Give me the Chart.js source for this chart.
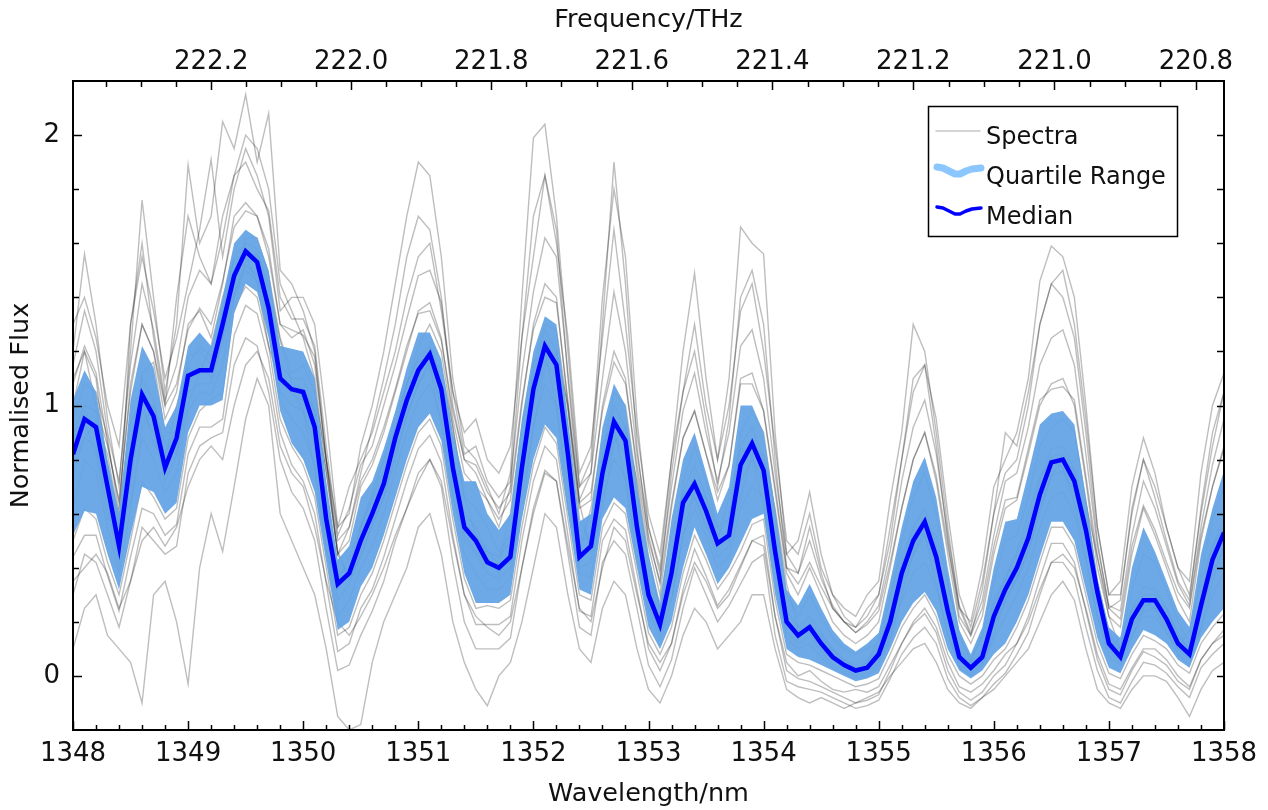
<!DOCTYPE html>
<html>
<head>
<meta charset="utf-8">
<script src="https://cdn.jsdelivr.net/npm/chart.js@4.4.0/dist/chart.umd.min.js"></script>
<style>
html,body{margin:0;padding:0;background:#fff;}
#wrap{width:1268px;height:810px;position:relative;}
</style>
</head>
<body>
<div id="wrap"><canvas id="c" width="1268" height="810"></canvas></div>
<script>
// ---- data (wavelength grid 1348.0 .. 1358.0 nm, step 0.1 nm) ----
const wavelengthStart = 1348.0;
const wavelengthStep = 0.1;
const wavelengths = Array.from({length: 101}, (_, i) => +(wavelengthStart + i * wavelengthStep).toFixed(1));

const median = [
0.82,0.95,0.92,0.70,0.48,0.80,1.04,0.96,0.77,0.88,
1.11,1.13,1.13,1.30,1.48,1.57,1.53,1.36,1.10,1.06,
1.05,0.92,0.58,0.34,0.38,0.50,0.60,0.71,0.88,1.02,
1.13,1.19,1.06,0.77,0.55,0.50,0.42,0.40,0.44,0.77,
1.06,1.22,1.15,0.82,0.44,0.48,0.75,0.94,0.87,0.55,
0.30,0.19,0.38,0.64,0.71,0.61,0.49,0.52,0.78,0.86,
0.76,0.46,0.20,0.15,0.18,0.12,0.07,0.04,0.02,0.03,
0.08,0.20,0.38,0.50,0.57,0.44,0.24,0.07,0.03,0.07,
0.22,0.32,0.40,0.51,0.67,0.79,0.80,0.72,0.54,0.31,
0.12,0.07,0.21,0.28,0.28,0.21,0.12,0.08,0.26,0.43,
0.53];

const upperQuartile = [
1.02,1.13,1.05,0.80,0.60,1.02,1.22,1.14,0.92,1.00,
1.22,1.27,1.22,1.40,1.60,1.65,1.62,1.50,1.22,1.21,
1.20,1.10,0.72,0.43,0.48,0.66,0.72,0.84,0.98,1.14,
1.27,1.27,1.17,0.90,0.72,0.72,0.60,0.54,0.60,0.95,
1.20,1.33,1.30,0.95,0.57,0.60,0.92,1.08,1.00,0.70,
0.45,0.27,0.58,0.80,0.90,0.75,0.60,0.70,1.00,1.00,
0.90,0.62,0.32,0.26,0.34,0.25,0.17,0.12,0.09,0.12,
0.16,0.35,0.55,0.72,0.81,0.66,0.40,0.17,0.08,0.18,
0.40,0.57,0.58,0.75,0.93,0.97,0.98,0.93,0.66,0.36,
0.18,0.14,0.40,0.55,0.46,0.35,0.24,0.18,0.45,0.62,
0.76];

const lowerQuartile = [
0.52,0.61,0.60,0.45,0.32,0.52,0.70,0.68,0.60,0.64,
0.90,1.00,1.00,1.02,1.34,1.45,1.42,1.25,0.98,0.86,
0.80,0.68,0.42,0.17,0.20,0.33,0.40,0.52,0.66,0.80,
0.92,0.97,0.87,0.60,0.38,0.27,0.27,0.27,0.30,0.58,
0.80,0.93,0.88,0.60,0.32,0.30,0.58,0.66,0.62,0.40,
0.18,0.10,0.20,0.40,0.55,0.45,0.34,0.40,0.49,0.58,
0.60,0.30,0.10,0.07,0.06,0.04,0.02,0.00,-0.02,-0.01,
0.01,0.10,0.20,0.27,0.31,0.24,0.10,0.02,-0.01,0.02,
0.08,0.12,0.20,0.30,0.44,0.57,0.57,0.50,0.32,0.14,
0.03,0.01,0.10,0.17,0.15,0.12,0.06,0.03,0.14,0.20,
0.25];

const spectrum01 = [
1.20,1.56,1.30,0.95,0.70,1.20,1.76,1.40,1.05,1.30,
1.89,1.60,1.70,2.05,1.95,2.15,1.90,2.08,1.50,1.45,
1.35,1.20,0.80,0.55,0.60,0.85,1.00,1.20,1.45,1.70,
1.90,1.85,1.55,1.10,0.85,0.80,0.70,0.60,0.75,1.40,
1.99,2.04,1.70,1.20,0.70,0.80,1.40,1.80,1.55,0.95,
0.55,0.40,0.80,1.20,1.49,1.10,0.80,1.10,1.66,1.60,
1.56,0.90,0.45,0.50,0.68,0.45,0.30,0.25,0.22,0.30,
0.35,0.65,0.90,1.30,1.20,0.90,0.55,0.25,0.20,0.40,
0.70,0.80,0.90,1.10,1.46,1.59,1.55,1.40,1.00,0.55,
0.30,0.35,0.70,0.88,0.75,0.55,0.40,0.35,0.75,1.00,
1.12];
const spectrum02 = [
1.30,1.40,1.25,1.00,0.85,1.30,1.55,1.35,1.10,1.25,
1.45,1.65,1.91,1.55,1.80,1.95,1.85,1.70,1.35,1.40,
1.40,1.30,0.95,0.55,0.70,0.80,0.90,1.05,1.20,1.40,
1.55,1.60,1.35,1.05,0.90,0.95,0.80,0.75,0.85,1.25,
1.55,1.85,1.60,1.25,0.75,0.85,1.25,1.65,1.30,0.90,
0.60,0.45,0.80,1.05,1.30,1.00,0.80,1.00,1.35,1.45,
1.20,0.85,0.50,0.45,0.60,0.40,0.30,0.22,0.18,0.22,
0.30,0.50,0.80,1.05,1.15,0.95,0.60,0.30,0.18,0.35,
0.60,0.90,0.85,1.05,1.30,1.45,1.50,1.30,0.95,0.55,
0.30,0.30,0.60,0.80,0.70,0.55,0.40,0.30,0.60,0.85,
1.05];
const spectrum03 = [
1.10,1.20,1.00,0.85,0.65,1.05,1.30,1.20,0.95,1.05,
1.30,1.35,1.25,1.45,1.70,1.75,1.70,1.55,1.30,1.25,
1.28,1.15,0.80,0.45,0.50,0.70,0.78,0.90,1.05,1.20,
1.35,1.38,1.25,0.95,0.75,0.70,0.65,0.58,0.65,1.00,
1.30,1.45,1.40,1.00,0.62,0.65,1.00,1.20,1.10,0.75,
0.48,0.30,0.62,0.88,0.98,0.82,0.65,0.78,1.10,1.12,
0.98,0.68,0.38,0.30,0.40,0.30,0.20,0.15,0.12,0.15,
0.20,0.40,0.62,0.80,0.90,0.72,0.45,0.20,0.12,0.22,
0.45,0.62,0.65,0.82,1.00,1.08,1.10,1.00,0.72,0.40,
0.22,0.18,0.45,0.62,0.52,0.40,0.28,0.20,0.50,0.70,
0.85];
const spectrum04 = [
0.90,1.00,0.98,0.78,0.55,0.85,1.10,1.02,0.82,0.92,
1.18,1.20,1.15,1.35,1.55,1.60,1.58,1.42,1.15,1.10,
1.10,0.98,0.62,0.38,0.40,0.55,0.65,0.76,0.92,1.08,
1.18,1.22,1.10,0.82,0.60,0.55,0.46,0.44,0.50,0.82,
1.12,1.28,1.20,0.88,0.50,0.52,0.80,1.00,0.92,0.60,
0.35,0.22,0.42,0.68,0.78,0.66,0.52,0.58,0.85,0.92,
0.80,0.50,0.24,0.18,0.22,0.16,0.10,0.06,0.04,0.06,
0.11,0.24,0.42,0.55,0.62,0.48,0.28,0.10,0.05,0.10,
0.26,0.36,0.45,0.56,0.72,0.84,0.85,0.76,0.58,0.34,
0.15,0.10,0.25,0.33,0.32,0.25,0.15,0.10,0.30,0.48,
0.58];
const spectrum05 = [
0.75,0.88,0.85,0.62,0.42,0.72,0.98,0.90,0.72,0.82,
1.05,1.08,1.08,1.25,1.42,1.52,1.48,1.30,1.05,1.00,
0.98,0.85,0.52,0.28,0.34,0.45,0.56,0.66,0.82,0.96,
1.08,1.14,1.00,0.72,0.50,0.45,0.38,0.36,0.40,0.72,
1.00,1.16,1.10,0.76,0.40,0.42,0.70,0.88,0.82,0.50,
0.26,0.16,0.34,0.60,0.66,0.56,0.44,0.48,0.72,0.80,
0.72,0.42,0.16,0.12,0.15,0.09,0.04,0.02,0.00,0.01,
0.05,0.16,0.34,0.45,0.52,0.40,0.20,0.04,0.01,0.05,
0.18,0.28,0.36,0.46,0.62,0.74,0.76,0.68,0.50,0.28,
0.10,0.05,0.18,0.24,0.25,0.18,0.10,0.06,0.22,0.38,
0.48];
const spectrum06 = [
0.50,0.62,0.58,0.42,0.30,0.50,0.72,0.66,0.58,0.62,
0.88,0.98,1.02,1.05,1.36,1.44,1.40,1.22,0.95,0.85,
0.78,0.66,0.40,0.15,0.18,0.30,0.38,0.50,0.64,0.78,
0.90,0.95,0.85,0.58,0.36,0.25,0.26,0.25,0.28,0.55,
0.78,0.92,0.86,0.58,0.30,0.28,0.55,0.64,0.60,0.38,
0.16,0.08,0.18,0.38,0.52,0.43,0.32,0.38,0.46,0.56,
0.58,0.28,0.08,0.05,0.04,0.02,0.00,-0.02,-0.04,-0.03,
-0.01,0.08,0.18,0.25,0.30,0.22,0.08,0.00,-0.03,0.00,
0.06,0.10,0.18,0.28,0.42,0.55,0.55,0.48,0.30,0.12,
0.01,-0.01,0.08,0.15,0.13,0.10,0.04,0.01,0.12,0.18,
0.23];
const spectrum07 = [
0.10,0.25,0.30,0.15,0.10,0.05,-0.10,0.30,0.35,0.20,
-0.03,0.40,0.60,0.46,0.70,0.95,1.10,1.00,0.60,0.50,
0.40,0.30,0.10,-0.15,-0.20,-0.18,0.05,0.20,0.30,0.40,
0.55,0.60,0.45,0.20,0.05,-0.05,-0.11,0.00,0.05,0.20,
0.40,0.60,0.55,0.30,0.10,0.05,0.25,0.35,0.30,0.10,
-0.05,-0.10,0.00,0.15,0.25,0.20,0.10,0.15,0.20,0.30,
0.30,0.10,-0.05,-0.08,-0.10,-0.08,-0.10,-0.12,-0.10,-0.08,
-0.06,0.00,0.05,0.10,0.12,0.05,-0.05,-0.10,-0.12,-0.08,
-0.05,0.00,0.05,0.10,0.20,0.30,0.35,0.28,0.10,-0.05,
-0.10,-0.12,-0.05,0.00,0.00,-0.02,-0.08,-0.15,-0.05,0.02,
0.05];
const spectrum08 = [
0.35,0.40,0.45,0.38,0.25,0.35,0.50,0.55,0.48,0.55,
0.70,0.80,0.85,0.80,1.00,1.15,1.20,1.10,0.85,0.75,
0.70,0.55,0.35,0.20,0.15,0.22,0.30,0.40,0.52,0.62,
0.72,0.80,0.72,0.50,0.30,0.22,0.18,0.15,0.20,0.40,
0.60,0.75,0.72,0.48,0.25,0.20,0.40,0.55,0.50,0.30,
0.12,0.05,0.12,0.30,0.42,0.35,0.25,0.30,0.40,0.50,
0.48,0.22,0.05,0.00,0.02,-0.02,-0.05,-0.06,-0.05,-0.06,
-0.04,0.04,0.12,0.20,0.25,0.18,0.05,-0.04,-0.06,-0.03,
0.02,0.08,0.12,0.20,0.32,0.42,0.45,0.40,0.25,0.08,
-0.03,-0.05,0.03,0.10,0.10,0.06,0.00,-0.04,0.06,0.12,
0.15];
const spectrum09 = [
0.95,1.08,1.05,0.88,0.60,0.70,1.12,1.16,0.90,0.90,
1.15,1.22,1.18,1.25,1.45,1.62,1.62,1.48,1.25,1.12,
1.15,1.05,0.80,0.45,0.36,0.55,0.68,0.80,0.92,1.08,
1.22,1.30,1.20,0.92,0.66,0.62,0.55,0.46,0.52,0.80,
1.15,1.30,1.28,0.98,0.58,0.48,0.82,1.05,1.00,0.70,
0.40,0.25,0.40,0.72,0.85,0.72,0.55,0.58,0.90,0.98,
0.90,0.60,0.30,0.22,0.30,0.22,0.14,0.10,0.08,0.10,
0.12,0.28,0.50,0.66,0.75,0.60,0.35,0.14,0.06,0.15,
0.35,0.50,0.52,0.66,0.85,0.92,0.95,0.90,0.65,0.35,
0.16,0.10,0.32,0.45,0.42,0.32,0.20,0.12,0.38,0.58,
0.70];
const spectrum10 = [
0.62,0.80,0.75,0.55,0.38,0.62,0.88,0.80,0.68,0.75,
0.98,1.05,1.04,1.15,1.40,1.50,1.46,1.28,1.02,0.95,
0.90,0.78,0.48,0.22,0.28,0.40,0.48,0.60,0.76,0.90,
1.02,1.08,0.95,0.68,0.45,0.38,0.32,0.32,0.36,0.66,
0.92,1.08,1.00,0.70,0.38,0.36,0.66,0.80,0.74,0.46,
0.24,0.14,0.28,0.52,0.62,0.52,0.40,0.44,0.62,0.70,
0.66,0.38,0.14,0.10,0.12,0.07,0.03,0.01,-0.01,0.00,
0.04,0.13,0.28,0.38,0.42,0.33,0.16,0.03,0.00,0.04,
0.14,0.22,0.30,0.40,0.55,0.66,0.68,0.60,0.42,0.22,
0.07,0.04,0.15,0.22,0.22,0.16,0.08,0.04,0.18,0.30,
0.38];
const spectrum11 = [
1.08,1.22,1.12,0.86,0.64,1.08,1.30,1.20,1.00,1.08,
1.28,1.36,1.30,1.46,1.66,1.72,1.70,1.58,1.30,1.28,
1.26,1.18,0.80,0.50,0.55,0.72,0.80,0.92,1.06,1.22,
1.34,1.35,1.24,0.98,0.80,0.78,0.68,0.62,0.68,1.02,
1.28,1.40,1.38,1.02,0.64,0.68,0.98,1.16,1.08,0.78,
0.52,0.34,0.64,0.88,0.98,0.82,0.68,0.78,1.08,1.08,
0.98,0.70,0.40,0.34,0.42,0.33,0.25,0.20,0.16,0.19,
0.24,0.42,0.62,0.80,0.90,0.74,0.48,0.25,0.15,0.25,
0.48,0.65,0.66,0.84,1.02,1.06,1.07,1.02,0.74,0.44,
0.25,0.21,0.48,0.63,0.54,0.42,0.31,0.25,0.52,0.70,
0.84];
const spectrum12 = [
0.44,0.52,0.52,0.37,0.24,0.44,0.62,0.60,0.52,0.56,
0.82,0.92,0.92,0.95,1.26,1.37,1.34,1.17,0.90,0.78,
0.72,0.60,0.34,0.09,0.12,0.25,0.32,0.44,0.58,0.72,
0.84,0.89,0.79,0.52,0.30,0.19,0.19,0.19,0.22,0.50,
0.72,0.85,0.80,0.52,0.24,0.22,0.50,0.58,0.54,0.32,
0.10,0.02,0.12,0.32,0.47,0.37,0.26,0.32,0.41,0.50,
0.52,0.22,0.02,-0.01,-0.02,-0.04,-0.06,-0.08,-0.10,-0.09,
-0.07,0.02,0.12,0.19,0.23,0.16,0.02,-0.06,-0.09,-0.06,
0.00,0.04,0.12,0.22,0.36,0.49,0.49,0.42,0.24,0.06,
-0.05,-0.07,0.02,0.09,0.07,0.04,-0.02,-0.05,0.06,0.12,
0.17];
const spectrum13 = [
0.90,0.94,0.82,0.58,0.62,0.94,1.02,0.86,0.80,1.00,
1.14,1.12,1.22,1.40,1.54,1.56,1.45,1.22,1.08,1.06,
0.98,0.76,0.46,0.35,0.44,0.56,0.66,0.80,0.96,1.08,
1.17,1.14,0.92,0.66,0.52,0.46,0.41,0.42,0.60,0.92,
1.16,1.20,1.00,0.62,0.46,0.62,0.86,0.92,0.72,0.42,
0.24,0.28,0.52,0.68,0.66,0.55,0.50,0.66,0.84,0.82,
0.62,0.34,0.18,0.17,0.16,0.10,0.06,0.03,0.02,0.05,
0.14,0.30,0.45,0.54,0.52,0.34,0.15,0.05,0.05,0.15,
0.28,0.36,0.46,0.60,0.74,0.80,0.77,0.64,0.44,0.22,
0.10,0.14,0.25,0.28,0.25,0.16,0.10,0.17,0.35,0.48,
0.55];
const spectrum14 = [
0.78,0.88,0.94,0.82,0.58,0.64,0.92,1.00,0.86,0.82,
1.00,1.12,1.13,1.22,1.40,1.53,1.56,1.45,1.24,1.08,
1.06,0.98,0.76,0.46,0.36,0.44,0.56,0.66,0.80,0.96,
1.08,1.16,1.14,0.92,0.66,0.52,0.46,0.41,0.42,0.60,
0.92,1.14,1.20,1.00,0.64,0.46,0.62,0.86,0.92,0.72,
0.44,0.24,0.28,0.52,0.68,0.66,0.55,0.50,0.66,0.82,
0.82,0.62,0.34,0.18,0.17,0.15,0.10,0.06,0.03,0.03,
0.06,0.14,0.30,0.45,0.54,0.52,0.34,0.16,0.05,0.05,
0.15,0.28,0.36,0.46,0.60,0.74,0.80,0.76,0.64,0.44,
0.22,0.10,0.14,0.25,0.28,0.25,0.16,0.10,0.17,0.35,
0.48];
const spectrum15 = [
1.15,1.35,1.20,0.90,0.72,1.15,1.45,1.28,1.02,1.15,
1.40,1.50,1.45,1.62,1.85,1.90,1.80,1.72,1.40,1.32,
1.32,1.22,0.85,0.52,0.62,0.78,0.85,1.00,1.15,1.32,
1.48,1.50,1.38,1.05,0.82,0.85,0.72,0.66,0.72,1.12,
1.42,1.62,1.55,1.12,0.70,0.75,1.10,1.42,1.20,0.82,
0.55,0.38,0.70,0.98,1.12,0.90,0.72,0.90,1.22,1.28,
1.10,0.75,0.45,0.38,0.50,0.36,0.26,0.20,0.16,0.20,
0.26,0.46,0.72,0.92,1.02,0.82,0.52,0.26,0.16,0.28,
0.52,0.72,0.75,0.92,1.15,1.25,1.28,1.15,0.82,0.48,
0.26,0.24,0.52,0.72,0.62,0.48,0.34,0.26,0.55,0.78,
0.95];
const spectrum16 = [
0.30,0.45,0.42,0.30,0.18,0.35,0.55,0.50,0.45,0.48,
0.75,0.85,0.88,0.90,1.15,1.25,1.22,1.05,0.80,0.68,
0.62,0.50,0.25,0.02,0.04,0.15,0.24,0.35,0.50,0.62,
0.75,0.80,0.70,0.42,0.20,0.10,0.10,0.10,0.14,0.40,
0.62,0.76,0.72,0.45,0.18,0.15,0.42,0.50,0.45,0.25,
0.04,-0.04,0.06,0.25,0.40,0.30,0.20,0.26,0.34,0.42,
0.45,0.15,-0.02,-0.04,-0.05,-0.06,-0.08,-0.10,-0.12,-0.11,
-0.09,-0.01,0.08,0.14,0.18,0.12,-0.01,-0.08,-0.11,-0.08,
-0.03,0.01,0.08,0.16,0.30,0.42,0.42,0.36,0.18,0.02,
-0.08,-0.10,-0.02,0.05,0.04,0.01,-0.04,-0.08,0.03,0.08,
0.12];
const spectrum17 = [
1.00,1.20,1.10,0.75,0.55,1.30,1.60,1.25,1.00,1.40,
1.70,1.55,1.45,1.70,1.85,2.00,1.95,1.80,1.45,1.35,
1.25,1.10,0.75,0.45,0.55,0.75,0.92,1.10,1.30,1.55,
1.70,1.65,1.40,1.00,0.80,0.75,0.65,0.55,0.70,1.25,
1.70,1.85,1.65,1.10,0.65,0.75,1.30,1.90,1.45,0.85,
0.50,0.35,0.75,1.05,1.20,0.95,0.70,0.95,1.40,1.50,
1.30,0.80,0.40,0.38,0.55,0.38,0.25,0.20,0.18,0.25,
0.30,0.55,0.80,1.10,1.15,0.85,0.50,0.22,0.15,0.32,
0.60,0.75,0.80,1.00,1.30,1.45,1.40,1.25,0.90,0.50,
0.25,0.28,0.62,0.80,0.66,0.50,0.35,0.28,0.62,0.90,
1.05];
const spectrum18 = [
0.85,0.98,0.90,0.72,0.50,0.78,1.06,0.98,0.80,0.86,
1.08,1.16,1.10,1.28,1.50,1.58,1.55,1.38,1.12,1.04,
1.02,0.94,0.60,0.32,0.40,0.52,0.62,0.73,0.86,1.00,
1.15,1.21,1.08,0.79,0.57,0.52,0.44,0.38,0.46,0.80,
1.08,1.24,1.17,0.80,0.42,0.50,0.77,0.96,0.89,0.53,
0.28,0.21,0.40,0.66,0.73,0.63,0.47,0.54,0.80,0.88,
0.78,0.48,0.22,0.13,0.20,0.14,0.09,0.05,0.03,0.05,
0.10,0.22,0.40,0.52,0.59,0.46,0.26,0.09,0.04,0.09,
0.24,0.34,0.42,0.53,0.69,0.81,0.82,0.74,0.56,0.33,
0.14,0.09,0.23,0.30,0.30,0.23,0.14,0.10,0.28,0.45,
0.55];
const spectra = [spectrum01, spectrum02, spectrum03, spectrum04, spectrum05, spectrum06,
                 spectrum07, spectrum08, spectrum09, spectrum10, spectrum11, spectrum12,
                 spectrum13, spectrum14, spectrum15, spectrum16, spectrum17, spectrum18];

// tick labels
const wavelengthTicks = [1348,1349,1350,1351,1352,1353,1354,1355,1356,1357,1358];
const frequencyTicks = [222.2,222.0,221.8,221.6,221.4,221.2,221.0,220.8];
const frequencyTickLabels = ['222.2','222.0','221.8','221.6','221.4','221.2','221.0','220.8'];
const fluxTicks = [0,1,2];
const fluxTickLabels = ['0','1','2'];
const C_NM_THZ = 299792.458;

// ---- chart ----
const FONT = "'DejaVu Sans', sans-serif";
const TEXT = '#111';
const toXY = arr => arr.map((v, i) => ({x: wavelengths[i], y: v}));

const datasets = [];
datasets.push({label:'Median', data: toXY(median), borderColor:'#0000ff', borderWidth:4.5,
  pointRadius:0, fill:false, tension:0, order:0});
datasets.push({label:'Quartile Range', data: toXY(upperQuartile), borderColor:'rgba(0,0,0,0)', borderWidth:1,
  backgroundColor:'rgba(98,163,228,0.93)', pointRadius:0, fill:'+1', tension:0, order:1});
datasets.push({label:'Lower quartile', data: toXY(lowerQuartile), borderColor:'rgba(0,0,0,0)', borderWidth:1,
  pointRadius:0, fill:false, tension:0, order:1});
spectra.forEach((s, k) => datasets.push({label:'Spectra', data: toXY(s), borderColor:'rgba(0,0,0,0.26)',
  borderWidth:1.4, pointRadius:0, fill:false, tension:0, order:2}));

const framePlugin = {
  id: 'frameTicks',
  afterDatasetsDraw(chart) {
    const {ctx, chartArea: a, scales} = chart;
    const xs = scales.x, ys = scales.y;
    ctx.save();
    ctx.strokeStyle = '#000';
    ctx.lineWidth = 1.5;
    const seg = (x1, y1, x2, y2) => { ctx.beginPath(); ctx.moveTo(x1, y1); ctx.lineTo(x2, y2); ctx.stroke(); };
    for (let m = 13480; m <= 13580; m += 2) {
      const px = Math.round(xs.getPixelForValue(m / 10)) + 0.5;
      const len = (m % 10 === 0) ? 9 : 5;
      seg(px, a.bottom, px, a.bottom - len);
    }
    for (let m = 22240; m >= 22070; m -= 5) {
      const lam = C_NM_THZ / (m / 100);
      if (lam <= 1348.001 || lam >= 1357.999) continue;
      const px = Math.round(xs.getPixelForValue(lam)) + 0.5;
      const len = (m % 20 === 0) ? 9 : 6;
      seg(px, a.top, px, a.top + len);
    }
    for (let m = 0; m <= 20; m += 2) {
      const py = Math.round(ys.getPixelForValue(m / 10)) + 0.5;
      const len = (m % 10 === 0) ? 9 : 6;
      seg(a.left, py, a.left + len, py);
      seg(a.right, py, a.right - 7, py);
    }
    ctx.lineWidth = 2;
    ctx.strokeRect(a.left, a.top, a.right - a.left, a.bottom - a.top);
    ctx.restore();
  }
};

const legendPlugin = {
  id: 'boxLegend',
  afterDraw(chart) {
    const ctx = chart.ctx;
    ctx.save();
    const bx = 928, by = 106, bw = 249, bh = 130;
    ctx.fillStyle = '#fff';
    ctx.fillRect(bx, by, bw, bh);
    ctx.strokeStyle = '#000';
    ctx.lineWidth = 1.5;
    ctx.strokeRect(bx + 0.5, by + 0.5, bw, bh);
    const wave = [[0,-3],[6,-2],[12,1],[18,4],[23,4],[29,1],[35,-1],[44,-2]];
    const drawWave = (x0, y0) => {
      ctx.beginPath();
      wave.forEach(([dx, dy], i) => i ? ctx.lineTo(x0 + dx, y0 + dy) : ctx.moveTo(x0 + dx, y0 + dy));
      ctx.stroke();
    };
    ctx.lineJoin = 'round';
    ctx.lineCap = 'round';
    ctx.strokeStyle = '#c8c8c8'; ctx.lineWidth = 1.5;
    ctx.beginPath(); ctx.moveTo(936, 131); ctx.lineTo(980, 131); ctx.stroke();
    ctx.strokeStyle = '#8cc6ff'; ctx.lineWidth = 7;
    drawWave(937, 170);
    ctx.strokeStyle = '#0000ff'; ctx.lineWidth = 3.5;
    drawWave(937, 210);
    ctx.fillStyle = TEXT;
    ctx.font = "24px 'DejaVu Sans'";
    ctx.textBaseline = 'middle';
    ctx.textAlign = 'left';
    ctx.fillText('Spectra', 986, 138);
    ctx.fillText('Quartile Range', 986, 178);
    ctx.fillText('Median', 986, 218);
    ctx.restore();
  }
};

new Chart(document.getElementById('c'), {
  type: 'line',
  data: { datasets },
  options: {
    responsive: false,
    animation: false,
    devicePixelRatio: 1,
    layout: { padding: { left: 0, right: 44, top: 0, bottom: 0 } },
    plugins: { legend: { display: false }, tooltip: { enabled: false } },
    scales: {
      x: {
        type: 'linear', position: 'bottom', min: 1348, max: 1358,
        afterBuildTicks: s => { s.ticks = wavelengthTicks.map(v => ({value: v})); },
        afterFit: s => { s.height = 80; },
        grid: { display: false, drawTicks: false }, border: { display: false },
        ticks: { autoSkip: false, maxRotation: 0, padding: 9, color: TEXT,
                 font: { family: FONT, size: 26 }, callback: (v, i) => String(wavelengthTicks[i]) },
        title: { display: true, text: 'Wavelength/nm', color: TEXT, font: { family: FONT, size: 25.5 },
                 padding: { top: 0, bottom: 0 } }
      },
      x2: {
        type: 'linear', position: 'top', min: 1348, max: 1358,
        afterBuildTicks: s => { s.ticks = frequencyTicks.map(f => ({value: C_NM_THZ / f})); },
        afterFit: s => { s.height = 81; },
        grid: { display: false, drawTicks: false }, border: { display: false },
        ticks: { autoSkip: false, maxRotation: 0, padding: 3, color: TEXT,
                 font: { family: FONT, size: 26 }, callback: (v, i) => frequencyTickLabels[i] },
        title: { display: true, text: 'Frequency/THz', color: TEXT, font: { family: FONT, size: 25.5 },
                 padding: { top: 5, bottom: 0 } }
      },
      y: {
        type: 'linear', position: 'left', min: -0.2, max: 2.2,
        afterBuildTicks: s => { s.ticks = fluxTicks.map(v => ({value: v})); },
        afterFit: s => { s.width = 73; },
        grid: { display: false, drawTicks: false }, border: { display: false },
        ticks: { autoSkip: false, padding: 13, color: TEXT,
                 font: { family: FONT, size: 26 }, callback: (v, i) => fluxTickLabels[i] },
        title: { display: true, text: 'Normalised Flux', color: TEXT, font: { family: FONT, size: 25.5 },
                 padding: { top: 6, bottom: 0 } }
      }
    }
  },
  plugins: [framePlugin, legendPlugin]
});
</script>
</body>
</html>
